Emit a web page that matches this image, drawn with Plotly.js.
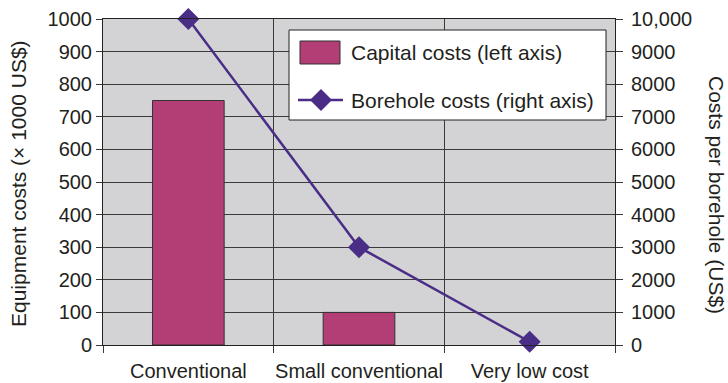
<!DOCTYPE html>
<html>
<head>
<meta charset="utf-8">
<script src="https://cdn.plot.ly/plotly-3.0.1.min.js"></script>
<style>
  html, body { margin: 0; padding: 0; background: #ffffff; }
  #chart { width: 728px; height: 383px; }
</style>
</head>
<body>
<div id="chart"></div>
<script>
// Drilling approaches compared
const categories = ["Conventional", "Small conventional", "Very low cost"];
// Capital (equipment) costs, thousands of US$ — left axis (no rig purchase for the last option)
const capitalCosts = [750, 100, null];
// Cost per borehole, US$ — right axis
const boreholeCosts = [10000, 3000, 100];

// Axis tick values and labels
const leftTicks = [0, 100, 200, 300, 400, 500, 600, 700, 800, 900, 1000];
const rightTicks = [0, 1000, 2000, 3000, 4000, 5000, 6000, 7000, 8000, 9000, 10000];
const rightTickText = ["0", "1000", "2000", "3000", "4000", "5000", "6000", "7000", "8000", "9000", "10,000"];

const seriesNames = ["Capital costs (left axis)", "Borehole costs (right axis)"];

const BAR_COLOR = "#b33d75";
const LINE_COLOR = "#4a2d86";
const TEXT_COLOR = "#231f20";
const GRID_COLOR = "#3a3a3a";
const FONT = "'Liberation Sans', Arial, Helvetica, sans-serif";

// Plot-area frame in page pixels
const W = 728, H = 383;
const L = 103, R = 615, T = 19, B = 345;
const px = x => (x - L) / (R - L);
const py = y => (B - y) / (B - T);

const traces = [
  {
    type: "bar",
    x: categories,
    y: capitalCosts,
    name: seriesNames[0],
    width: 0.42,
    marker: { color: BAR_COLOR, line: { color: "#333333", width: 1 } },
    showlegend: false,
    hoverinfo: "skip"
  },
  {
    type: "scatter",
    mode: "lines+markers",
    x: categories,
    y: boreholeCosts,
    name: seriesNames[1],
    yaxis: "y2",
    line: { color: LINE_COLOR, width: 2.5 },
    marker: { symbol: "diamond", size: 17, color: LINE_COLOR },
    cliponaxis: false,
    showlegend: false,
    hoverinfo: "skip"
  }
];

// Hand-built legend box
const diamond = (cx, cy, r) => {
  const pts = [[cx, cy - r], [cx + r, cy], [cx, cy + r], [cx - r, cy]];
  return "M" + pts.map(p => px(p[0]) + "," + py(p[1])).join("L") + "Z";
};

const shapes = [
  { type: "rect", xref: "paper", yref: "paper",
    x0: px(289), x1: px(606), y0: py(30), y1: py(120),
    fillcolor: "#ffffff", line: { color: "#222222", width: 1 } },
  { type: "rect", xref: "paper", yref: "paper",
    x0: px(300), x1: px(340), y0: py(41), y1: py(64),
    fillcolor: BAR_COLOR, line: { color: "#333333", width: 1 } },
  { type: "line", xref: "paper", yref: "paper",
    x0: px(298), x1: px(343), y0: py(100), y1: py(100),
    line: { color: LINE_COLOR, width: 2.5 } },
  { type: "path", xref: "paper", yref: "paper",
    path: diamond(321, 100, 11),
    fillcolor: LINE_COLOR, line: { color: LINE_COLOR, width: 0 } }
];

const annotations = [
  { xref: "paper", yref: "paper", x: px(349), y: py(53), xanchor: "left", yanchor: "middle",
    text: seriesNames[0], showarrow: false, font: { size: 21, color: TEXT_COLOR, family: FONT } },
  { xref: "paper", yref: "paper", x: px(349), y: py(100), xanchor: "left", yanchor: "middle",
    text: seriesNames[1], showarrow: false, font: { size: 21, color: TEXT_COLOR, family: FONT } },
  { xref: "paper", yref: "paper", x: px(18), y: py(184), xanchor: "center", yanchor: "middle",
    text: "Equipment costs (× 1000 US$)", textangle: -90, showarrow: false,
    font: { size: 21, color: TEXT_COLOR, family: FONT } },
  { xref: "paper", yref: "paper", x: px(717), y: py(195), xanchor: "center", yanchor: "middle",
    text: "Costs per borehole (US$)", textangle: 90, showarrow: false,
    font: { size: 21, color: TEXT_COLOR, family: FONT } }
];

const layout = {
  width: W,
  height: H,
  margin: { l: L, r: W - R, t: T, b: H - B, pad: 0 },
  paper_bgcolor: "#ffffff",
  plot_bgcolor: "#d3d3d5",
  font: { family: FONT, size: 20, color: TEXT_COLOR },
  showlegend: false,
  xaxis: {
    type: "category",
    range: [-0.5, 2.5],
    tickson: "boundaries",
    ticks: "outside",
    ticklen: 7,
    tickcolor: GRID_COLOR,
    tickangle: 0,
    ticklabelstandoff: 8,
    showgrid: true,
    gridcolor: GRID_COLOR,
    gridwidth: 1,
    showline: true,
    linecolor: "#222222",
    linewidth: 1,
    mirror: true,
    tickfont: { size: 20, color: TEXT_COLOR },
    automargin: false,
    fixedrange: true
  },
  yaxis: {
    range: [0, 1000],
    tickmode: "array",
    tickvals: leftTicks,
    ticktext: leftTicks.map(String),
    ticks: "outside",
    ticklen: 6,
    tickcolor: GRID_COLOR,
    showgrid: true,
    gridcolor: GRID_COLOR,
    gridwidth: 1,
    zeroline: false,
    showline: true,
    linecolor: "#222222",
    linewidth: 1,
    mirror: true,
    tickfont: { size: 20, color: TEXT_COLOR },
    automargin: false,
    fixedrange: true
  },
  yaxis2: {
    overlaying: "y",
    side: "right",
    range: [0, 10000],
    tickmode: "array",
    tickvals: rightTicks,
    ticktext: rightTickText,
    ticks: "outside",
    ticklen: 7,
    tickcolor: GRID_COLOR,
    ticklabelstandoff: 4,
    showgrid: false,
    zeroline: false,
    showline: false,
    tickfont: { size: 20, color: TEXT_COLOR },
    automargin: false,
    fixedrange: true
  },
  shapes: shapes,
  annotations: annotations
};

Plotly.newPlot("chart", traces, layout, { displayModeBar: false, staticPlot: true });
</script>
</body>
</html>
